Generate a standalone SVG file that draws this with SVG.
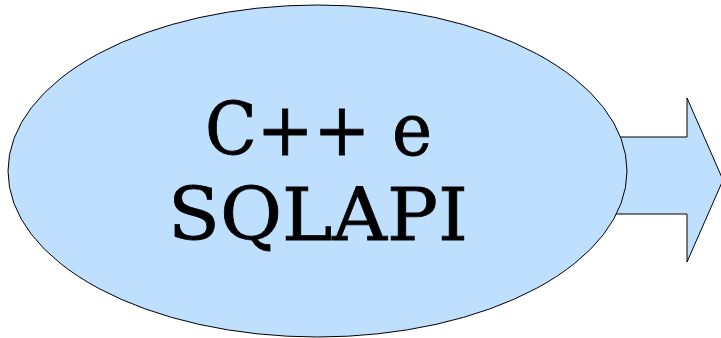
<svg xmlns="http://www.w3.org/2000/svg" width="721" height="338" viewBox="0 0 721 338">
<style>
.shape{fill:#bfdfff;stroke:#000;stroke-width:1}
.label{font-family:"DejaVu Serif",serif;font-size:72px;fill:#000;text-anchor:middle;stroke:#000;stroke-width:0.8}
</style>
<rect width="721" height="338" fill="#fff"/>
<g id="connectors">
<path class="shape" d="M600,137 L687,137 L687,98 L723,180 L687,262 L687,214 L600,214 Z"/>
</g>
<g id="node-cpp">
<ellipse class="shape" cx="317.5" cy="171" rx="309.5" ry="166"/>
<text class="label" x="318.5" y="155" textLength="227" lengthAdjust="spacingAndGlyphs">C++ e</text>
<text class="label" x="318" y="240" textLength="300" lengthAdjust="spacingAndGlyphs">SQLAPI</text>
</g>
</svg>
